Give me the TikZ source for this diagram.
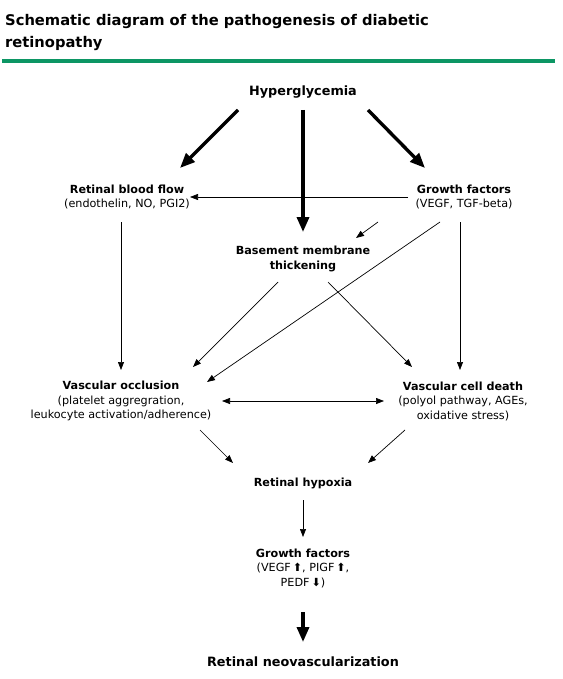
\documentclass[tikz,border=0pt]{standalone}
\usepackage{fontspec}
\setmainfont{DejaVu Sans}
\usetikzlibrary{arrows.meta}
\definecolor{bargreen}{RGB}{12,150,100}
\tikzset{
  box/.style={align=center,inner sep=0pt,font=\fontsize{11.2}{14.5}\selectfont},
  bigbox/.style={box,font=\fontsize{12.8}{15}\selectfont\bfseries},
  thinarrow/.style={-{Triangle[length=8pt,width=6pt]},line width=0.7pt},
  twoway/.style={{Triangle[length=8pt,width=6pt]}-{Triangle[length=8pt,width=6pt]},line width=0.7pt},
  thickarrow/.style={-{Triangle[length=15pt,width=12pt]},line width=3.4pt},
}

\begin{document}
\begin{tikzpicture}[x=1pt,y=-1pt]
    \useasboundingbox (0,0) rectangle (562,679);
    \node[anchor=north west,align=left,inner sep=0pt,font=\fontsize{14.7}{22}\selectfont\bfseries] (title) at (5,14)
        {Schematic diagram of the pathogenesis of diabetic\\retinopathy};
    \fill[bargreen] (2,59) rectangle (555,63);

    \node[bigbox] (hyper) at (303,92) {Hyperglycemia};
    \node[box] (flow) at (127,197) {\textbf{Retinal blood flow}\\(endothelin, NO, PGI2)};
    \node[box] (gf) at (464,197) {\textbf{Growth factors}\\(VEGF, TGF-beta)};
    \node[box] (bm) at (303,259) {\textbf{Basement membrane}\\\textbf{thickening}};
    \node[box] (occl) at (121,401) {\textbf{Vascular occlusion}\\(platelet aggregration,\\leukocyte activation/adherence)};
    \node[box] (death) at (463,401) {\textbf{Vascular cell death}\\(polyol pathway, AGEs,\\oxidative stress)};
    \node[box] (hypox) at (303,483) {\textbf{Retinal hypoxia}};
    \node[box] (gf2) at (303,568) {\textbf{Growth factors}\\(VEGF\,⬆, PIGF\,⬆,\\PEDF\,⬇)};
    \node[bigbox] (neo) at (303,662) {Retinal neovascularization};

    \draw[thickarrow] ([shift={(-65,18)}]hyper.center) -- ([shift={(53,-29)}]flow.center);
    \draw[thickarrow] ([shift={(0,18)}]hyper.center) -- ([shift={(0,-27)}]bm.center);
    \draw[thickarrow] ([shift={(65,18)}]hyper.center) -- ([shift={(-39,-29)}]gf.center);
    \draw[thinarrow] ([shift={(-56,0)}]gf.center) -- ([shift={(63,0)}]flow.center);
    \draw[thinarrow] ([shift={(-86,25)}]gf.center) -- ([shift={(53,-21)}]bm.center);
    \draw[thinarrow] ([shift={(-24,25)}]gf.center) -- ([shift={(86,-19)}]occl.center);
    \draw[thinarrow] ([shift={(-4,25)}]gf.center) -- ([shift={(-3,-31)}]death.center);
    \draw[thinarrow] ([shift={(-6,25)}]flow.center) -- ([shift={(0,-31)}]occl.center);
    \draw[thinarrow] ([shift={(-25,23)}]bm.center) -- ([shift={(72,-34)}]occl.center);
    \draw[thinarrow] ([shift={(25,23)}]bm.center) -- ([shift={(-51,-34)}]death.center);
    \draw[twoway] ([shift={(101,0)}]occl.center) -- ([shift={(-79,0)}]death.center);
    \draw[thinarrow] ([shift={(79,29)}]occl.center) -- ([shift={(-70,-20)}]hypox.center);
    \draw[thinarrow] ([shift={(-58,29)}]death.center) -- ([shift={(65,-20)}]hypox.center);
    \draw[thinarrow] ([shift={(0,17)}]hypox.center) -- ([shift={(0,-31)}]gf2.center);
    \draw[thickarrow] ([shift={(0,44)}]gf2.center) -- ([shift={(0,-20)}]neo.center);
\end{tikzpicture}
\end{document}
